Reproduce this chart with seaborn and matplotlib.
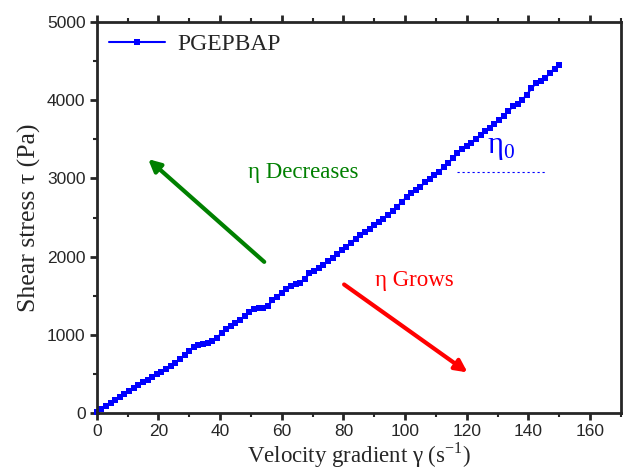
import numpy as np
import pandas as pd
import matplotlib
matplotlib.use("Agg")
import matplotlib.pyplot as plt
import seaborn as sns
from matplotlib.ticker import MultipleLocator

# velocity gradient (1/s)
shear_rate = [i * 1.5 for i in range(101)]
shear_stress = [
    10, 50, 90, 130, 165, 205, 245, 285, 325, 360,
    395, 430, 465, 500, 530, 565, 605, 645, 690, 745,
    800, 840, 865, 880, 895, 925, 965, 1020, 1070, 1110,
    1150, 1195, 1240, 1290, 1325, 1340, 1350, 1375, 1440, 1490,
    1540, 1590, 1620, 1645, 1665, 1720, 1785, 1820, 1860, 1895,
    1940, 1985, 2030, 2080, 2125, 2180, 2230, 2275, 2310, 2355,
    2400, 2440, 2485, 2530, 2580, 2640, 2700, 2760, 2810, 2850,
    2895, 2950, 2990, 3040, 3085, 3140, 3200, 3255, 3320, 3380,
    3420, 3450, 3500, 3560, 3600, 3640, 3690, 3750, 3800, 3860,
    3920, 3950, 4000, 4070, 4150, 4220, 4250, 4280, 4350, 4400,
    4450,
]
df = pd.DataFrame({"rate": shear_rate, "stress": shear_stress})

sns.set_style("ticks")
serif = ["Liberation Serif", "DejaVu Serif"]
sans = ["Liberation Sans", "DejaVu Sans"]
plt.rcParams["font.family"] = sans
plt.rcParams["mathtext.fontset"] = "custom"
plt.rcParams["mathtext.rm"] = "Liberation Serif"

fig = plt.figure(figsize=(6.24, 4.76), dpi=100)
ax = fig.add_axes([0.155, 0.132, 0.84, 0.822])

sns.lineplot(data=df, x="rate", y="stress", ax=ax, color="#0000ff",
             marker="s", markersize=5, markeredgewidth=0, linewidth=1.5,
             label="PGEPBAP", clip_on=False)

ax.set_xlim(0, 170)
ax.set_ylim(0, 5000)
ax.xaxis.set_major_locator(MultipleLocator(20))
ax.xaxis.set_minor_locator(MultipleLocator(10))
ax.yaxis.set_major_locator(MultipleLocator(1000))
ax.yaxis.set_minor_locator(MultipleLocator(500))
for s in ax.spines.values():
    s.set_linewidth(2)
    s.set_visible(True)
ax.tick_params(which="major", direction="out", length=5, width=2, labelsize=12.5, pad=3)
ax.tick_params(which="minor", direction="out", length=3, width=1.5)
ax.tick_params(axis="x", which="both", top=True)

ax.set_xlabel(r"Velocity gradient γ (s$^{\mathregular{-1}}$)", family=serif,
              fontsize=16.5, labelpad=1)
ax.set_ylabel("Shear stress τ (Pa)", family=serif, fontsize=18.5, labelpad=4)

leg = ax.legend(loc="upper left", frameon=False, prop={"family": serif, "size": 17},
                handlelength=2.4, borderaxespad=0.1, handletextpad=0.5)

# eta_0 reference
ax.plot([117, 146], [3080, 3080], ls=(0, (2, 2.5)), color="#0000ff", lw=0.8)
ax.text(131, 3330, r"η$_{\mathregular{0}}$", color="#0000ff", fontsize=22, family=serif, ha="center")

ax.annotate("", xy=(16, 3270), xytext=(55, 1910),
            arrowprops=dict(arrowstyle="-|>", color="green", lw=3, mutation_scale=18))
ax.text(67, 3070, "η Decreases", color="green", fontsize=16.5, family=serif,
        ha="center", va="center")
ax.annotate("", xy=(121, 500), xytext=(79.5, 1665),
            arrowprops=dict(arrowstyle="-|>", color="red", lw=3, mutation_scale=18))
ax.text(103, 1700, "η Grows", color="red", fontsize=16.5, family=serif,
        ha="center", va="center")

fig.savefig("out.png", dpi=100)
